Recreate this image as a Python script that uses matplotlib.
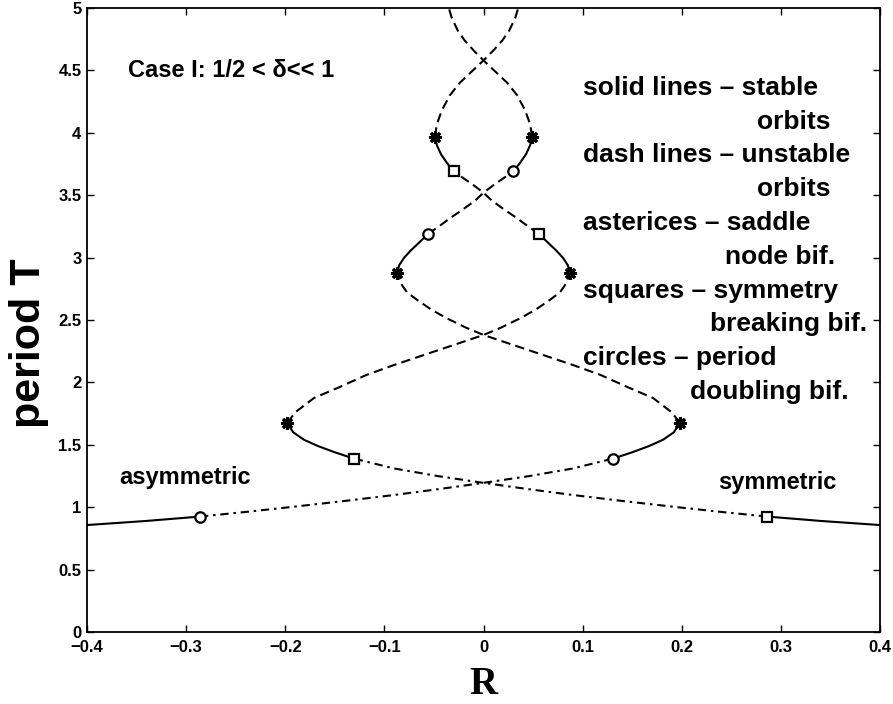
import matplotlib
matplotlib.use("Agg")
import matplotlib.pyplot as plt

plt.rcParams['font.family'] = ['Liberation Sans', 'DejaVu Sans']

# ---------------- data ----------------
# asymmetric branch (starts at left edge)
asym_stable_1_R = [-0.400, -0.340, -0.286]
asym_stable_1_T = [0.857, 0.890, 0.925]
asym_unstable_1_R = [-0.286, -0.240, -0.190, -0.140, -0.090, -0.045, 0.000, 0.045, 0.090, 0.131]
asym_unstable_1_T = [0.925, 0.962, 1.005, 1.050, 1.098, 1.145, 1.195, 1.248, 1.310, 1.390]
asym_stable_2_R = [0.131, 0.150, 0.167, 0.181, 0.192, 0.198]
asym_stable_2_T = [1.390, 1.440, 1.490, 1.540, 1.600, 1.675]
asym_unstable_2_R = [0.198, 0.190, 0.171, 0.146, 0.118, 0.090, 0.060, 0.030, 0.000,
                     -0.018, -0.036, -0.052, -0.065, -0.077, -0.084, -0.087]
asym_unstable_2_T = [1.675, 1.760, 1.875, 1.960, 2.060, 2.140, 2.220, 2.300, 2.380,
                     2.440, 2.510, 2.580, 2.650, 2.720, 2.800, 2.880]
asym_stable_3_R = [-0.087, -0.085, -0.080, -0.073, -0.065, -0.056]
asym_stable_3_T = [2.880, 2.940, 3.000, 3.060, 3.120, 3.190]
asym_unstable_3_R = [-0.056, -0.045, -0.033, -0.020, -0.008, 0.000, 0.010, 0.020, 0.030]
asym_unstable_3_T = [3.190, 3.250, 3.320, 3.390, 3.460, 3.520, 3.580, 3.635, 3.690]
asym_stable_4_R = [0.030, 0.037, 0.043, 0.047, 0.049]
asym_stable_4_T = [3.690, 3.760, 3.830, 3.900, 3.970]
asym_unstable_4_R = [0.049, 0.047, 0.042, 0.034, 0.024, 0.012, 0.000, -0.010, -0.019, -0.026, -0.032, -0.035]
asym_unstable_4_T = [3.970, 4.070, 4.180, 4.300, 4.400, 4.490, 4.580, 4.660, 4.740, 4.820, 4.920, 5.000]

# symmetric branch (starts at right edge)
sym_stable_1_R = [0.400, 0.340, 0.286]
sym_stable_1_T = [0.857, 0.890, 0.925]
sym_unstable_1_R = [0.286, 0.240, 0.190, 0.140, 0.090, 0.045, 0.000, -0.045, -0.090, -0.131]
sym_unstable_1_T = [0.925, 0.962, 1.005, 1.050, 1.098, 1.145, 1.195, 1.248, 1.310, 1.390]
sym_stable_2_R = [-0.131, -0.150, -0.167, -0.181, -0.192, -0.198]
sym_stable_2_T = [1.390, 1.440, 1.490, 1.540, 1.600, 1.675]
sym_unstable_2_R = [-0.198, -0.190, -0.171, -0.146, -0.118, -0.090, -0.060, -0.030, 0.000,
                    0.018, 0.036, 0.052, 0.065, 0.077, 0.084, 0.087]
sym_unstable_2_T = [1.675, 1.760, 1.875, 1.960, 2.060, 2.140, 2.220, 2.300, 2.380,
                    2.440, 2.510, 2.580, 2.650, 2.720, 2.800, 2.880]
sym_stable_3_R = [0.087, 0.085, 0.080, 0.073, 0.065, 0.056]
sym_stable_3_T = [2.880, 2.940, 3.000, 3.060, 3.120, 3.190]
sym_unstable_3_R = [0.056, 0.045, 0.033, 0.020, 0.008, 0.000, -0.010, -0.020, -0.030]
sym_unstable_3_T = [3.190, 3.250, 3.320, 3.390, 3.460, 3.520, 3.580, 3.635, 3.690]
sym_stable_4_R = [-0.030, -0.037, -0.043, -0.047, -0.049]
sym_stable_4_T = [3.690, 3.760, 3.830, 3.900, 3.970]
sym_unstable_4_R = [-0.049, -0.047, -0.042, -0.034, -0.024, -0.012, 0.000, 0.010, 0.019, 0.026, 0.032, 0.035]
sym_unstable_4_T = [3.970, 4.070, 4.180, 4.300, 4.400, 4.490, 4.580, 4.660, 4.740, 4.820, 4.920, 5.000]

# bifurcation points
saddle_node_R = [0.198, -0.198, -0.087, 0.087, 0.049, -0.049]
saddle_node_T = [1.675, 1.675, 2.880, 2.880, 3.970, 3.970]
symmetry_breaking_R = [0.286, -0.131, 0.056, -0.030]
symmetry_breaking_T = [0.925, 1.390, 3.190, 3.690]
period_doubling_R = [-0.286, 0.131, -0.056, 0.030]
period_doubling_T = [0.925, 1.390, 3.190, 3.690]

x_ticks = [-0.4, -0.3, -0.2, -0.1, 0.0, 0.1, 0.2, 0.3, 0.4]
x_tick_labels = ['\u22120.4', '\u22120.3', '\u22120.2', '\u22120.1', '0', '0.1', '0.2', '0.3', '0.4']
y_ticks = [0, 0.5, 1, 1.5, 2, 2.5, 3, 3.5, 4, 4.5, 5]
y_tick_labels = ['0', '0.5', '1', '1.5', '2', '2.5', '3', '3.5', '4', '4.5', '5']

legend_lines = ['solid lines \u2013 stable', 'orbits', 'dash lines \u2013 unstable', 'orbits',
                'asterices \u2013 saddle', 'node bif.', 'squares \u2013 symmetry', 'breaking bif.',
                'circles \u2013 period', 'doubling bif.']

# ---------------- figure ----------------
fig = plt.figure(figsize=(8.93, 7.04), dpi=100)
ax = fig.add_axes([87 / 893, 72 / 704, 793 / 893, 624 / 704])

LW = 1.5
dashed = (0, (4.5, 2.5))
dashdot = (0, (4.0, 2.3, 1.2, 2.3))

solid_segments = [
    (asym_stable_1_R, asym_stable_1_T), (asym_stable_2_R, asym_stable_2_T),
    (asym_stable_3_R, asym_stable_3_T), (asym_stable_4_R, asym_stable_4_T),
    (sym_stable_1_R, sym_stable_1_T), (sym_stable_2_R, sym_stable_2_T),
    (sym_stable_3_R, sym_stable_3_T), (sym_stable_4_R, sym_stable_4_T),
]
for r, t in solid_segments:
    ax.plot(r, t, color='black', lw=LW, ls='-', solid_capstyle='butt')

for r, t in [(asym_unstable_1_R, asym_unstable_1_T), (sym_unstable_1_R, sym_unstable_1_T)]:
    ax.plot(r, t, color='black', lw=LW, ls=dashdot, dash_capstyle='butt')

for r, t in [(asym_unstable_2_R, asym_unstable_2_T), (sym_unstable_2_R, sym_unstable_2_T),
             (asym_unstable_3_R, asym_unstable_3_T), (sym_unstable_3_R, sym_unstable_3_T),
             (asym_unstable_4_R, asym_unstable_4_T), (sym_unstable_4_R, sym_unstable_4_T)]:
    ax.plot(r, t, color='black', lw=LW, ls=dashed, dash_capstyle='butt')

ax.plot(saddle_node_R, saddle_node_T, ls='none', marker=(8, 2, 0), ms=9, mew=2.2,
        color='black', zorder=5)
ax.plot(symmetry_breaking_R, symmetry_breaking_T, ls='none', marker='s', ms=6.5, mew=1.6,
        mec='black', mfc='white', zorder=5)
ax.plot(period_doubling_R, period_doubling_T, ls='none', marker='o', ms=7.5, mew=1.6,
        mec='black', mfc='white', zorder=5)

ax.set_xlim(-0.4, 0.4)
ax.set_ylim(0, 5)
ax.set_xticks(x_ticks)
ax.set_xticklabels(x_tick_labels, fontweight='bold', fontsize=12)
ax.set_yticks(y_ticks)
ax.set_yticklabels(y_tick_labels, fontweight='bold', fontsize=12)
ax.tick_params(direction='in', top=True, right=True, length=5, width=1.0)
ax.tick_params(axis='x', pad=6)
ax.tick_params(axis='y', pad=4)
for s in ax.spines.values():
    s.set_linewidth(1.3)

# texts
ax.text(-0.359, 4.5, 'Case I: 1/2 < \u03b4<< 1', fontsize=17, fontweight='bold',
        ha='left', va='center')
ax.text(-0.367, 1.24, 'asymmetric', fontsize=17, fontweight='bold', ha='left', va='center')
ax.text(0.2366, 1.20, 'symmetric', fontsize=17, fontweight='bold', ha='left', va='center')

left_main = 0.1004
cont_x = [0.276, 0.276, 0.2437, 0.2285, 0.2084]
y0 = 4.36
dy = 33.8 / 124.8
for i, line in enumerate(legend_lines):
    if i % 2 == 0:
        x = left_main
    else:
        x = cont_x[i // 2]
    ax.text(x, y0 - i * dy, line, fontsize=19, fontweight='bold', ha='left', va='center')

fig.text(29 / 893, (704 - 343) / 704, 'period T', rotation=90, fontsize=31,
         fontweight='bold', ha='center', va='center')
fig.text(483 / 893, (704 - 684) / 704, 'R', fontsize=28, fontweight='bold',
         family='Liberation Serif', ha='center', va='center')

fig.savefig('out.png', dpi=100)
